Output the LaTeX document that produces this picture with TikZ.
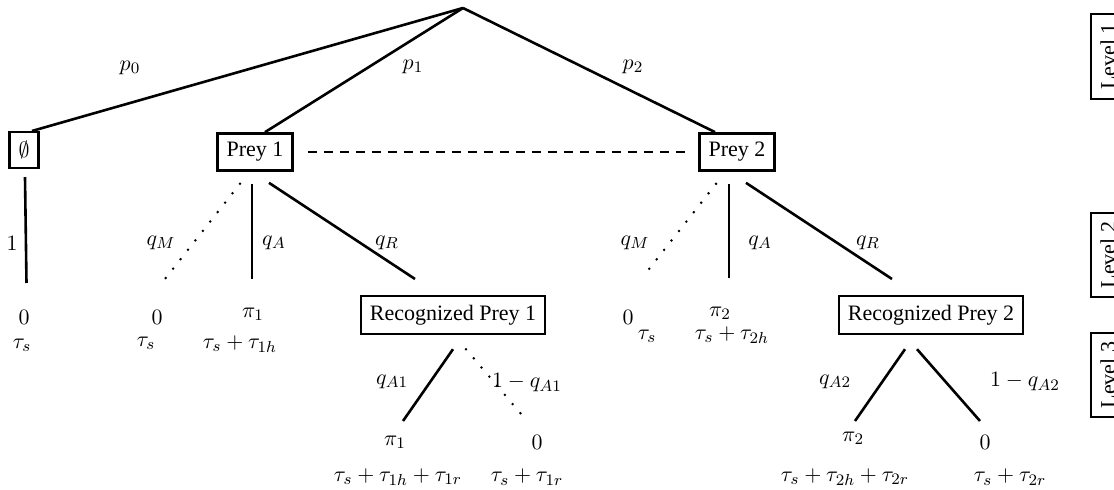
\documentclass[tikz,border=0pt]{standalone}
\usepackage{fontspec}
\setmainfont{Liberation Serif}
\usetikzlibrary{calc}
\tikzset{
  box/.style={draw, line width=1.2pt, inner sep=4.5pt, font=\fontsize{11}{13}\selectfont},
  lbl/.style={font=\fontsize{11}{13}\selectfont, inner sep=0pt},
  edge/.style={line width=1.3pt},
  dotline/.style={line width=1.4pt, dash pattern=on 0pt off 6pt, line cap=round},
  dashline/.style={line width=1.3pt, dash pattern=on 4.5pt off 3.5pt},
}
\begin{document}
\begin{tikzpicture}[x=0.5pt,y=-0.5pt]
\useasboundingbox (0,0) rectangle (1114,490);
\clip (0,0) rectangle (1114,490);
% nodes
\coordinate (root) at (463,8);
\node[box] (E) at (24,150) {$\emptyset$};
\node[box] (P1) at (255,152) {Prey 1};
\node[box] (P2) at (737,152) {Prey 2};
\node[box] (R1) at (453,315) {Recognized Prey 1};
\node[box] (R2) at (931,315) {Recognized Prey 2};
\node[box, rotate=90] (L1) at (1108,56.5) {Level 1};
\node[box, rotate=90] (L2) at (1108,255) {Level 2};
\node[box, rotate=90] (L3) at (1108,375) {Level 3};
% level 1 edges
\draw[edge] (root) -- ($(E.north)+(8,0)$);
\draw[edge] (root) -- ($(P1.north)+(10,0)$);
\draw[edge] (root) -- ($(P2.north)+(-22,0)$);
\node[lbl] (lp0) at (130,68) {$p_0$};
\node[lbl] (lp1) at (413,67) {$p_1$};
\node[lbl] (lp2) at (633,67) {$p_2$};
\draw[dashline] ($(P1.east)+(14,0)$) -- ($(P2.west)+(-10,0)$);
% empty branch
\coordinate (eE) at (26.5,283);
\draw[edge] ($(E.south)+(1,8)$) -- (eE);
\node[lbl] (l1) at (12,243) {$1$};
\node[lbl] (e0) at (24,317) {$0$};
\node[lbl] (et) at (22,345) {$\tau_s$};
% prey 1 branches
\coordinate (aM) at (165,279);
\coordinate (aA) at (252,279);
\coordinate (aR) at (415,279);
\draw[dotline] ($(P1.south)+(-15,12)$) -- (aM);
\draw[edge] ($(P1.south)+(-3,12)$) -- (aA);
\draw[edge] ($(P1.south)+(14,11)$) -- (aR);
\node[lbl] (aqM) at (161,243) {$q_M$};
\node[lbl] (aqA) at (274,243) {$q_A$};
\node[lbl] (aqR) at (387,243) {$q_R$};
\node[lbl] (a0) at (157,317) {$0$};
\node[lbl] (at) at (146,343) {$\tau_s$};
\node[lbl] (api) at (253,314) {$\pi_1$};
\node[lbl] (att) at (240,344) {$\tau_s+\tau_{1h}$};
% prey 2 branches
\coordinate (bM) at (642,278);
\coordinate (bA) at (729,278);
\coordinate (bR) at (892,279);
\draw[dotline] ($(P2.south)+(-21,12)$) -- (bM);
\draw[edge] ($(P2.south)+(-8,12)$) -- (bA);
\draw[edge] ($(P2.south)+(9,11)$) -- (bR);
\node[lbl] (bqM) at (635,243) {$q_M$};
\node[lbl] (bqA) at (760,243) {$q_A$};
\node[lbl] (bqR) at (868,243) {$q_R$};
\node[lbl] (b0) at (628,317) {$0$};
\node[lbl] (bt) at (647,336) {$\tau_s$};
\node[lbl] (bpi) at (720,313) {$\pi_2$};
\node[lbl] (btt) at (732,335) {$\tau_s+\tau_{2h}$};
% recognized prey 1
\coordinate (cA) at (403,421);
\coordinate (cN) at (527,421);
\draw[edge] ($(R1.south)+(0,14)$) -- (cA);
\draw[dotline] ($(R1.south)+(13,14)$) -- (cN);
\node[lbl] (cqA) at (392,382) {$q_{A1}$};
\node[lbl] (cqN) at (527,383) {$1-q_{A1}$};
\node[lbl] (cpi) at (395,442) {$\pi_1$};
\node[lbl] (c0) at (537,442) {$0$};
\node[lbl] (ct1) at (398,477) {$\tau_s+\tau_{1h}+\tau_{1r}$};
\node[lbl] (ct2) at (527,477) {$\tau_s+\tau_{1r}$};
% recognized prey 2
\coordinate (dA) at (855,421);
\coordinate (dN) at (980,421);
\draw[edge] ($(R2.south)+(-26,14)$) -- (dA);
\draw[edge] ($(R2.south)+(-14,14)$) -- (dN);
\node[lbl] (dqA) at (835,382) {$q_{A2}$};
\node[lbl] (dqN) at (1025,382) {$1-q_{A2}$};
\node[lbl] (dpi) at (853,438) {$\pi_2$};
\node[lbl] (d0) at (985,442) {$0$};
\node[lbl] (dt1) at (845,477) {$\tau_s+\tau_{2h}+\tau_{2r}$};
\node[lbl] (dt2) at (1010,477) {$\tau_s+\tau_{2r}$};
\end{tikzpicture}
\end{document}
